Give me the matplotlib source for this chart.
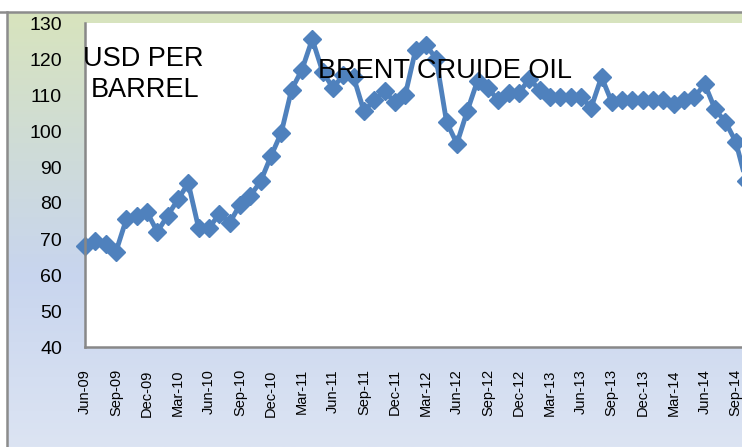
import numpy as np
import matplotlib
matplotlib.use("Agg")
import matplotlib.pyplot as plt
from matplotlib.colors import LinearSegmentedColormap
from matplotlib.lines import Line2D

# monthly Brent price, Jun-09 .. Oct-14
brent = [68, 69.5, 68.5, 66.5, 75.5, 76.5, 77.5, 72, 76.5, 81,
         85.5, 73, 73, 77, 74.5, 79.5, 82, 86, 93, 99.5,
         111.5, 117, 125.5, 116.5, 112, 115.5, 115, 105.5, 108.5, 111,
         108, 110, 122.5, 124, 120, 102.5, 96.5, 105.5, 114, 112,
         108.5, 110.5, 110.5, 114.5, 111.5, 109.5, 109.5, 109.5, 109.5, 106.5,
         115, 108, 108.5, 108.5, 108.5, 108.5, 108.5, 107.5, 108.5, 109.5,
         113, 106, 102.5, 97, 86]

tick_labels = ['Jun-09', 'Sep-09', 'Dec-09', 'Mar-10', 'Jun-10', 'Sep-10', 'Dec-10',
               'Mar-11', 'Jun-11', 'Sep-11', 'Dec-11', 'Mar-12', 'Jun-12', 'Sep-12',
               'Dec-12', 'Mar-13', 'Jun-13', 'Sep-13', 'Dec-13', 'Mar-14', 'Jun-14',
               'Sep-14']
y_ticks = [40, 50, 60, 70, 80, 90, 100, 110, 120, 130]

plt.rcParams['font.family'] = ['Liberation Sans', 'DejaVu Sans']

W, H = 742, 447
fig = plt.figure(figsize=(W / 100, H / 100), dpi=100)
fig.patch.set_facecolor('white')

# gradient background inside the chart frame
bg = fig.add_axes([7 / W, 0, 1 - 7 / W, 1 - 12 / H], zorder=0)
cmap = LinearSegmentedColormap.from_list('bg', [(0, '#d8e4bd'), (0.3, '#cfdcd6'),
                                                 (0.6, '#c8d5ee'), (1, '#dce4f3')])
bg.imshow(np.linspace(0, 1, 256).reshape(-1, 1), aspect='auto', cmap=cmap,
          extent=[0, 1, 0, 1], origin='upper')
bg.axis('off')

# frame lines (top and left)
fig.add_artist(Line2D([0, 1], [1 - 11.5 / H] * 2, color='#8c8c8c', lw=1.8,
                      transform=fig.transFigure))
fig.add_artist(Line2D([7 / W] * 2, [0, 1 - 11.5 / H], color='#8c8c8c', lw=1.8,
                      transform=fig.transFigure))

px_per_month = 10.33
ax_left, ax_right = 85, 760
ax = fig.add_axes([ax_left / W, (H - 347) / H, (ax_right - ax_left) / W, (347 - 23) / H],
                  zorder=1)
ax.set_facecolor('white')

x = np.arange(len(brent))
ax.plot(x, brent, color='#4F81BD', lw=3.5, marker='D', markersize=9,
        markeredgecolor='#4F81BD', clip_on=False)

ax.set_xlim(0, (ax_right - ax_left) / px_per_month)
ax.set_ylim(40, 130)
ax.set_yticks(y_ticks)
ax.set_xticks(np.arange(0, len(tick_labels) * 3, 3))
ax.set_xticklabels(tick_labels, rotation=90, fontsize=10.5)
ax.tick_params(axis='y', length=0, pad=16.5, labelsize=14)
ax.tick_params(axis='x', length=0, pad=16)

for s in ['top', 'right']:
    ax.spines[s].set_visible(False)
for s in ['left', 'bottom']:
    ax.spines[s].set_color('#888888')
    ax.spines[s].set_linewidth(1.8)

fig.text(143 / W, 1 - 66 / H, 'USD PER', ha='center', va='baseline', fontsize=19.5)
fig.text(145 / W, 1 - 97 / H, 'BARREL', ha='center', va='baseline', fontsize=19.5)
fig.text(318 / W, 1 - 78 / H, 'BRENT CRUIDE OIL', ha='left', va='baseline',
         fontsize=19.5, zorder=5)

fig.savefig('out.png', dpi=100)
